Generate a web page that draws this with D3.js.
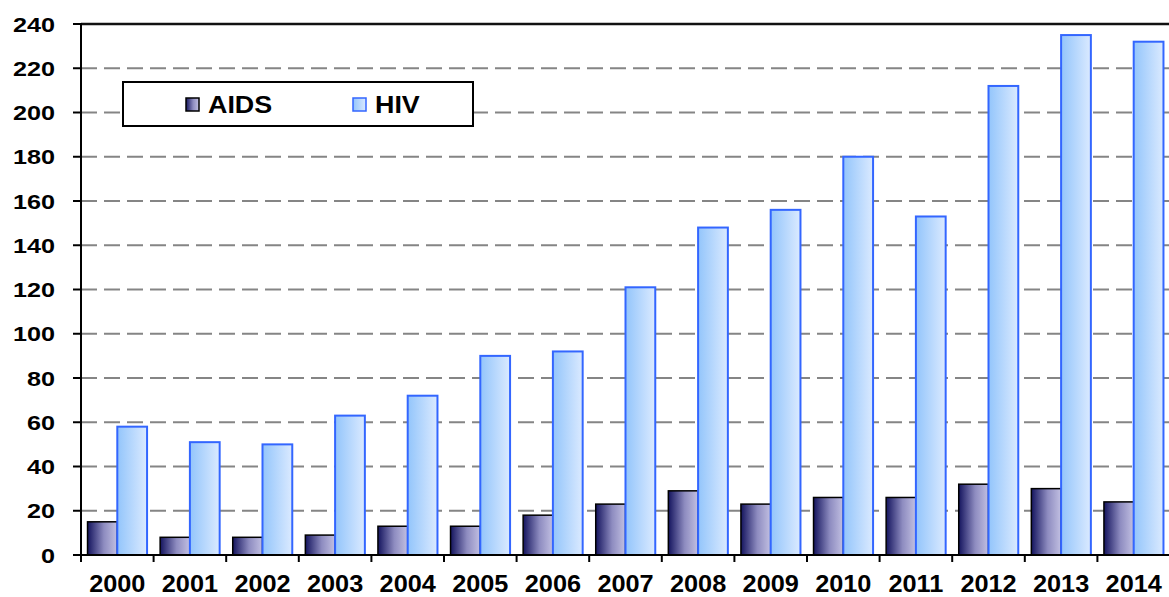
<!DOCTYPE html>
<html>
<head>
<meta charset="utf-8">
<script src="https://cdn.jsdelivr.net/npm/d3@7"></script>
<style>
  body { margin: 0; background: #fff; }
  svg { display: block; font-family: "Liberation Sans", Arial, sans-serif; font-weight: bold; }
</style>
</head>
<body>
<svg id="chart"></svg>
<script>
// values
var years = ['2000', '2001', '2002', '2003', '2004', '2005', '2006', '2007', '2008', '2009', '2010', '2011', '2012', '2013', '2014'];
var aids = [15, 8, 8, 9, 13, 13, 18, 23, 29, 23, 26, 26, 32, 30, 24];
var hiv = [58, 51, 50, 63, 72, 90, 92, 121, 148, 156, 180, 153, 212, 235, 232];
var seriesNames = ['AIDS', 'HIV'];
var yTicks = [0, 20, 40, 60, 80, 100, 120, 140, 160, 180, 200, 220, 240];

var width = 1169, height = 597;
var plotLeft = 81, plotRight = 1170, plotTop = 24, plotBottom = 555;

var svg = d3.select('#chart').attr('width', width).attr('height', height);

var defs = svg.append('defs');
var gA = defs.append('linearGradient').attr('id', 'gradAids').attr('x1', '0%').attr('x2', '100%');
gA.append('stop').attr('offset', '0%').attr('stop-color', '#14145e');
gA.append('stop').attr('offset', '55%').attr('stop-color', '#8e8cc0');
gA.append('stop').attr('offset', '100%').attr('stop-color', '#c2c0e2');
var gH = defs.append('linearGradient').attr('id', 'gradHiv').attr('x1', '0%').attr('x2', '100%');
gH.append('stop').attr('offset', '0%').attr('stop-color', '#93c5fb');
gH.append('stop').attr('offset', '100%').attr('stop-color', '#dbeaff');

var x0 = d3.scaleBand().domain(years).range([plotLeft, plotRight]).paddingInner(0.18).paddingOuter(0.09);
var x1 = d3.scaleBand().domain(seriesNames).range([0, x0.bandwidth()]);
var y = d3.scaleLinear().domain([0, 240]).range([plotBottom, plotTop]);

// gridlines
svg.append('g')
    .selectAll('line')
    .data(yTicks.filter(d => d > 0 && d < 240))
    .enter()
    .append('line')
    .attr('x1', plotLeft).attr('x2', width)
    .attr('y1', d => y(d)).attr('y2', d => y(d))
    .attr('stroke', '#858585')
    .attr('stroke-width', 2)
    .attr('stroke-dasharray', '16,7');

// top border
svg.append('line')
    .attr('x1', plotLeft).attr('x2', width)
    .attr('y1', y(240)).attr('y2', y(240))
    .attr('stroke', '#111').attr('stroke-width', 2.5);

// legend, sits over the gridlines
var legend = svg.append('g').attr('class', 'legend');
legend.append('rect')
    .attr('x', 123).attr('y', 82).attr('width', 350).attr('height', 44)
    .attr('fill', '#fff').attr('stroke', '#000').attr('stroke-width', 2);
var legendItems = [
    {name: 'AIDS', fill: 'url(#gradAids)', stroke: '#000', x: 186},
    {name: 'HIV', fill: 'url(#gradHiv)', stroke: '#3366ff', x: 353}
];
legendItems.forEach(d => {
    legend.append('rect')
        .attr('x', d.x).attr('y', 98).attr('width', 13).attr('height', 13)
        .attr('fill', d.fill).attr('stroke', d.stroke).attr('stroke-width', 1.5);
    legend.append('text')
        .attr('transform', 'translate(' + (d.x + 22) + ',113) scale(1.12,1)')
        .attr('font-size', 24)
        .text(d.name);
});

// bars
var groups = svg.append('g')
    .selectAll('g')
    .data(years)
    .enter()
    .append('g')
    .attr('transform', d => 'translate(' + x0(d) + ',0)');

groups.append('rect')
    .attr('x', x1('AIDS'))
    .attr('y', (d, i) => y(aids[i]))
    .attr('width', x1.bandwidth())
    .attr('height', (d, i) => y(0) - y(aids[i]))
    .attr('fill', 'url(#gradAids)')
    .attr('stroke', '#000')
    .attr('stroke-width', 1.5);

groups.append('rect')
    .attr('x', x1('HIV'))
    .attr('y', (d, i) => y(hiv[i]))
    .attr('width', x1.bandwidth())
    .attr('height', (d, i) => y(0) - y(hiv[i]))
    .attr('fill', 'url(#gradHiv)')
    .attr('stroke', '#3366ff')
    .attr('stroke-width', 2);

// y axis
svg.append('line')
    .attr('x1', plotLeft).attr('x2', plotLeft)
    .attr('y1', y(240)).attr('y2', y(0) + 1)
    .attr('stroke', '#000').attr('stroke-width', 2);
svg.append('g')
    .selectAll('line')
    .data(yTicks)
    .enter()
    .append('line')
    .attr('x1', plotLeft - 8).attr('x2', plotLeft + 1)
    .attr('y1', d => y(d)).attr('y2', d => y(d))
    .attr('stroke', '#000').attr('stroke-width', 2);
svg.append('g')
    .selectAll('text')
    .data(yTicks)
    .enter()
    .append('text')
    .attr('transform', d => 'translate(55,' + y(d) + ') scale(1.2,1)')
    .attr('text-anchor', 'end')
    .attr('dy', '0.36em')
    .attr('font-size', 21)
    .text(d => d);

// x axis
svg.append('line')
    .attr('x1', plotLeft).attr('x2', width)
    .attr('y1', y(0)).attr('y2', y(0))
    .attr('stroke', '#000').attr('stroke-width', 2);
var gap = (x0.step() - x0.bandwidth()) / 2;
var boundaries = years.map(d => x0(d) - gap).concat([x0(years[years.length - 1]) + x0.bandwidth() + gap]);
svg.append('g')
    .selectAll('line')
    .data(boundaries)
    .enter()
    .append('line')
    .attr('x1', d => d).attr('x2', d => d)
    .attr('y1', y(0)).attr('y2', y(0) + 7)
    .attr('stroke', '#000').attr('stroke-width', 2);
svg.append('g')
    .selectAll('text')
    .data(years)
    .enter()
    .append('text')
    .attr('transform', d => 'translate(' + (x0(d) + x0.bandwidth() / 2) + ',592) scale(1.1,1)')
    .attr('text-anchor', 'middle')
    .attr('font-size', 23)
    .text(d => d);
</script>
</body>
</html>
